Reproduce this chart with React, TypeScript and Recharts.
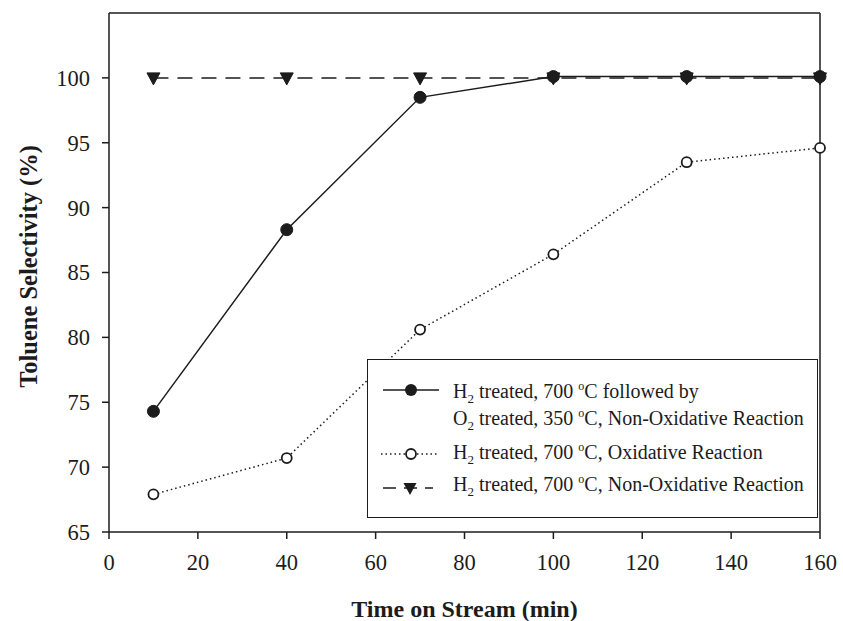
import React from "react";
import {
  LineChart,
  Line,
  XAxis,
  YAxis,
  ReferenceLine,
  Legend,
  Label,
} from "recharts";

const times = [10, 40, 70, 100, 130, 160];
const h2o2NonOxidative = [74.3, 88.3, 98.5, 100.1, 100.1, 100.1];
const h2Oxidative = [67.9, 70.7, 80.6, 86.4, 93.5, 94.6];
const h2NonOxidative = [100, 100, 100, 100, 100, 100];

const xTicks = [0, 20, 40, 60, 80, 100, 120, 140, 160];
const yTicks = [65, 70, 75, 80, 85, 90, 95, 100];

const rows = times.map((t, i) => ({
  t,
  combined: h2o2NonOxidative[i],
  oxidative: h2Oxidative[i],
  nonOxidative: h2NonOxidative[i],
}));

const FONT = '"Liberation Serif", "Times New Roman", serif';
const INK = "#1c1c1c";

function TriangleDot(props: any) {
  const { cx, cy, index } = props;
  if (cx == null || cy == null) return null;
  return (
    <path
      key={`tri-${index}`}
      d={`M${cx - 6.5},${cy - 5} L${cx + 6.5},${cy - 5} L${cx},${cy + 7} Z`}
      fill={INK}
      stroke={INK}
      strokeWidth={1}
    />
  );
}

const Sub = ({ c }: { c: string }) => (
  <span style={{ fontSize: 13, position: "relative", top: 5 }}>{c}</span>
);
const Deg = () => (
  <span style={{ fontSize: 12, position: "relative", top: -8 }}>o</span>
);

function LegendBox() {
  const text: React.CSSProperties = {
    position: "absolute",
    left: 85,
    transform: "translateY(-50%)",
    whiteSpace: "nowrap",
    fontFamily: FONT,
    fontSize: 20,
    lineHeight: "22px",
    color: INK,
  };
  const sym: React.CSSProperties = { position: "absolute", left: 10 };
  return (
    <div
      style={{
        position: "relative",
        width: 451,
        height: 159,
        boxSizing: "border-box",
        border: `1.5px solid ${INK}`,
        background: "#fff",
      }}
    >
      <svg style={{ ...sym, top: 20 }} width={70} height={20}>
        <line x1={5} x2={61} y1={10} y2={10} stroke={INK} strokeWidth={1.5} />
        <circle cx={33} cy={10} r={6} fill={INK} />
      </svg>
      <div style={{ ...text, top: 32 }}>
        H<Sub c="2" /> treated, 700 <Deg />C followed by
      </div>
      <div style={{ ...text, top: 59 }}>
        O<Sub c="2" /> treated, 350 <Deg />C, Non-Oxidative Reaction
      </div>
      <svg style={{ ...sym, top: 84 }} width={70} height={20}>
        <line
          x1={3}
          x2={61}
          y1={10}
          y2={10}
          stroke={INK}
          strokeWidth={1.5}
          strokeDasharray="1.5 3"
        />
        <circle cx={33} cy={10} r={5} fill="#fff" stroke={INK} strokeWidth={1.8} />
      </svg>
      <div style={{ ...text, top: 93 }}>
        H<Sub c="2" /> treated, 700 <Deg />C, Oxidative Reaction
      </div>
      <svg style={{ ...sym, top: 118 }} width={70} height={20}>
        <line
          x1={5}
          x2={55}
          y1={10}
          y2={10}
          stroke={INK}
          strokeWidth={1.5}
          strokeDasharray="13 8"
        />
        <path d="M25.5,5 L38.5,5 L32,17 Z" fill={INK} />
      </svg>
      <div style={{ ...text, top: 125 }}>
        H<Sub c="2" /> treated, 700 <Deg />C, Non-Oxidative Reaction
      </div>
    </div>
  );
}

function YTitle(props: any) {
  const vb = props.viewBox || { x: 0, y: 13, width: 109, height: 519 };
  const cx = 28;
  const cy = vb.y + vb.height / 2 - 6;
  return (
    <text
      x={cx}
      y={cy}
      transform={`rotate(-90, ${cx}, ${cy})`}
      textAnchor="middle"
      dominantBaseline="central"
      fontFamily={FONT}
      fontWeight="bold"
      fontSize={24.5}
      fill={INK}
    >
      Toluene Selectivity (%)
    </text>
  );
}

function XTitle(props: any) {
  const vb = props.viewBox || { x: 109, y: 532, width: 711, height: 89 };
  const cx = vb.x + vb.width / 2;
  return (
    <text
      x={cx}
      y={609}
      textAnchor="middle"
      dominantBaseline="central"
      fontFamily={FONT}
      fontWeight="bold"
      fontSize={24}
      fill={INK}
    >
      Time on Stream (min)
    </text>
  );
}

const tickStyle = { fontFamily: FONT, fontSize: 22.5, fill: INK };

export default function App() {
  return (
    <div
      style={{
        position: "absolute",
        left: 0,
        top: 0,
        width: 843,
        height: 621,
        background: "#fff",
      }}
    >
      <LineChart
        width={843}
        height={621}
        data={rows}
        margin={{ top: 13, right: 23, bottom: 0, left: 0 }}
      >
        <XAxis
          dataKey="t"
          type="number"
          domain={[0, 160]}
          ticks={xTicks}
          interval={0}
          height={89}
          tickSize={7}
          tickMargin={15}
          tick={tickStyle}
          axisLine={{ stroke: INK, strokeWidth: 1.5 }}
          tickLine={{ stroke: INK, strokeWidth: 1.5 }}
        >
          <Label content={<XTitle />} />
        </XAxis>
        <YAxis
          type="number"
          domain={[65, 105]}
          ticks={yTicks}
          interval={0}
          width={109}
          tickSize={7}
          tickMargin={12}
          tick={tickStyle}
          axisLine={{ stroke: INK, strokeWidth: 1.5 }}
          tickLine={{ stroke: INK, strokeWidth: 1.5 }}
        >
          <Label content={<YTitle />} />
        </YAxis>
        <ReferenceLine y={105} stroke={INK} strokeWidth={1.5} />
        <ReferenceLine x={160} stroke={INK} strokeWidth={1.5} />
        <Line
          dataKey="nonOxidative"
          stroke={INK}
          strokeWidth={1.5}
          strokeDasharray="15 9"
          dot={TriangleDot}
          activeDot={false}
          isAnimationActive={false}
        />
        <Line
          dataKey="oxidative"
          stroke={INK}
          strokeWidth={1.5}
          strokeDasharray="1.5 3"
          dot={{ r: 5, fill: "#fff", stroke: INK, strokeWidth: 1.8, strokeDasharray: "0" }}
          activeDot={false}
          isAnimationActive={false}
        />
        <Line
          dataKey="combined"
          stroke={INK}
          strokeWidth={1.5}
          dot={{ r: 6, fill: INK, stroke: INK, strokeWidth: 1 }}
          activeDot={false}
          isAnimationActive={false}
        />
        <Legend
          layout="vertical"
          align="center"
          verticalAlign="middle"
          content={() => <LegendBox />}
          wrapperStyle={{ position: "absolute", left: 367, top: 359, width: 451, height: 159 }}
        />
      </LineChart>
    </div>
  );
}
